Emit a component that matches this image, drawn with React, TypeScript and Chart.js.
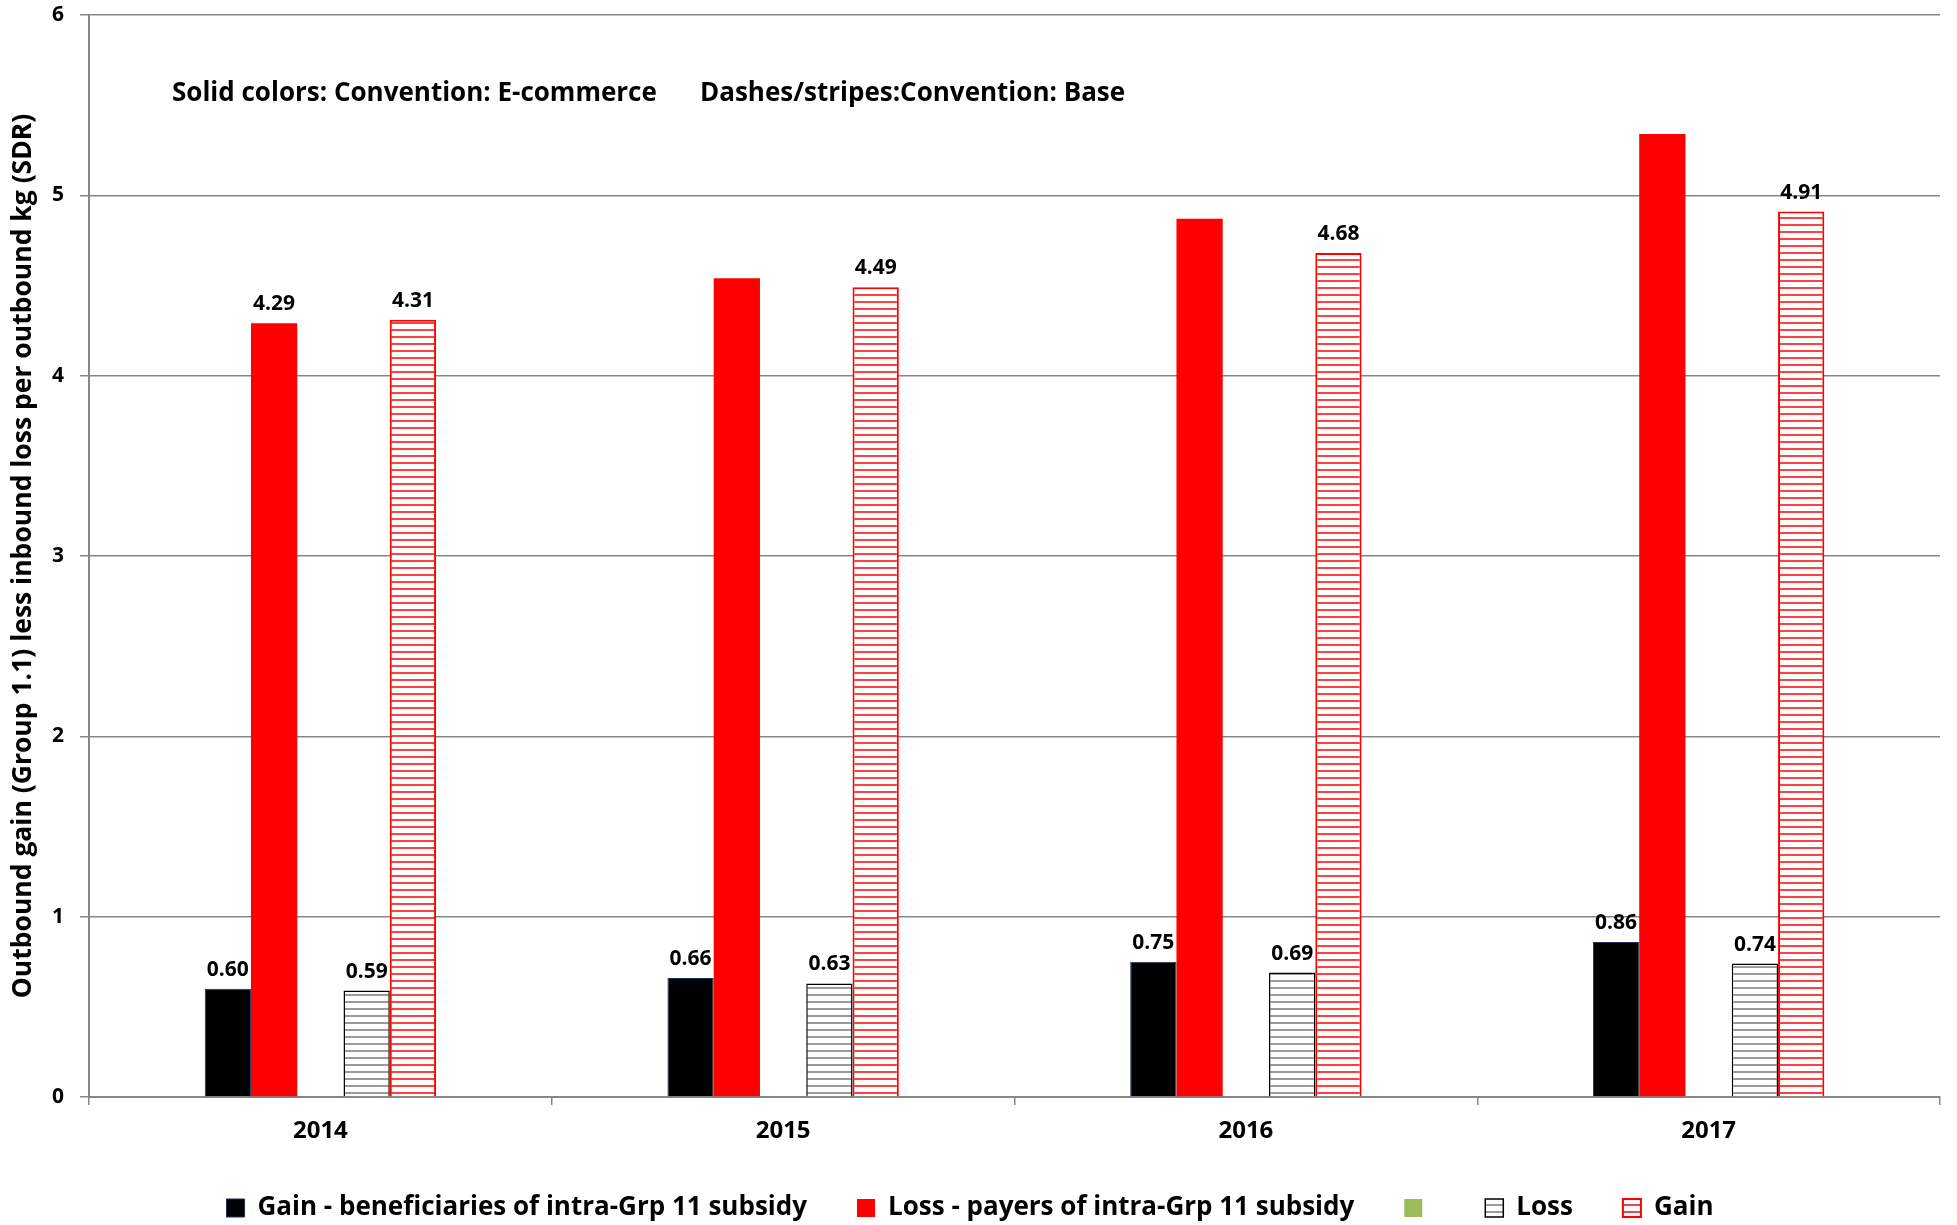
import React, { useEffect, useRef } from "react";
import { Chart, registerables } from "chart.js";

Chart.register(...registerables);

const years = ["2014", "2015", "2016", "2017"];
const ecomGain = [0.6, 0.66, 0.75, 0.86];
const ecomLoss = [4.29, 4.54, 4.87, 5.34];
const emptySeries = [null, null, null, null];
const baseLoss = [0.59, 0.63, 0.69, 0.74];
const baseGain = [4.31, 4.49, 4.68, 4.91];

const ecomGainShown = [true, true, true, true];
const ecomLossShown = [true, false, false, false];
const baseLossShown = [true, true, true, true];
const baseGainShown = [true, true, true, true];

const yTicks = [0, 1, 2, 3, 4, 5, 6];

const seriesNames = [
  "Gain - beneficiaries of intra-Grp 11 subsidy",
  "Loss - payers of intra-Grp 11 subsidy",
  "",
  "Loss",
  "Gain",
];

const noteLeft = "Solid colors: Convention: E-commerce";
const noteRight = "Dashes/stripes:Convention: Base";
const yTitle = "Outbound gain (Group 1.1) less inbound loss per outbound kg (SDR)";

const FONT = "'Open Sans', Lato, sans-serif";
const GRID = "#878787";

function makeStripe(line: string, lineW: number, period: number): CanvasPattern | string {
  const c = document.createElement("canvas");
  c.width = 8;
  c.height = period;
  const g = c.getContext("2d");
  if (!g) return "#ffffff";
  g.fillStyle = "#ffffff";
  g.fillRect(0, 0, 8, period);
  g.fillStyle = line;
  g.fillRect(0, 0, 8, lineW);
  const p = g.createPattern(c, "repeat");
  return p || "#ffffff";
}

const labelPlugin = {
  id: "valueLabels",
  afterDatasetsDraw(chart: any) {
    const flags = [ecomGainShown, ecomLossShown, null, baseLossShown, baseGainShown];
    const { ctx } = chart;
    ctx.save();
    ctx.font = `bold 21px ${FONT}`;
    ctx.fillStyle = "#000000";
    ctx.textAlign = "center";
    ctx.textBaseline = "alphabetic";
    chart.data.datasets.forEach((ds: any, i: number) => {
      const f = flags[i];
      if (!f) return;
      const meta = chart.getDatasetMeta(i);
      meta.data.forEach((el: any, j: number) => {
        const v = ds.data[j];
        if (!f[j] || v == null) return;
        ctx.fillText(Number(v).toFixed(2), el.x, el.y - 13);
      });
    });
    ctx.restore();
  },
};

const notePlugin = {
  id: "note",
  afterDraw(chart: any) {
    const { ctx, chartArea } = chart;
    ctx.save();
    ctx.font = `bold 26px ${FONT}`;
    ctx.fillStyle = "#000000";
    ctx.textAlign = "left";
    ctx.textBaseline = "middle";
    ctx.fillText(noteLeft, chartArea.left + 83, chartArea.top + 79);
    ctx.fillText(noteRight, chartArea.left + 611, chartArea.top + 79);
    ctx.restore();
  },
};

export default function App() {
  const ref = useRef<HTMLCanvasElement | null>(null);

  useEffect(() => {
    if (!ref.current) return;
    const blackStripe = makeStripe("#9a9a9a", 2, 7);
    const redStripe = makeStripe("#ff4040", 2, 7);

    const chart = new Chart(ref.current, {
      type: "bar",
      data: {
        labels: years,
        datasets: [
          {
            label: seriesNames[0],
            data: ecomGain,
            backgroundColor: "#000000",
            borderColor: "#1f2f5f",
            borderWidth: 1,
          },
          {
            label: seriesNames[1],
            data: ecomLoss,
            backgroundColor: "#ff0000",
            borderColor: "#ff0000",
            borderWidth: 0,
          },
          {
            label: seriesNames[2],
            data: emptySeries as any,
            backgroundColor: "#9bbb59",
            borderColor: "#9bbb59",
            borderWidth: 0,
          },
          {
            label: seriesNames[3],
            data: baseLoss,
            backgroundColor: blackStripe as any,
            borderColor: "#000000",
            borderWidth: 1.5,
          },
          {
            label: seriesNames[4],
            data: baseGain,
            backgroundColor: redStripe as any,
            borderColor: "#ff0000",
            borderWidth: 2,
          },
        ],
      },
      options: {
        animation: false,
        responsive: true,
        maintainAspectRatio: false,
        devicePixelRatio: 1,
        events: [],
        layout: { padding: { top: 15, right: 17, bottom: -6, left: 0 } },
        datasets: {
          bar: { categoryPercentage: 0.5, barPercentage: 1 },
        },
        plugins: {
          tooltip: { enabled: false },
          title: { display: false },
          legend: {
            display: true,
            position: "bottom",
            labels: {
              font: { family: FONT, size: 26, weight: "bold" },
              color: "#000000",
              boxWidth: 18,
              boxHeight: 18,
              padding: 50,
            },
          },
        },
        scales: {
          x: {
            type: "category",
            offset: true,
            grid: {
              display: true,
              drawOnChartArea: false,
              drawTicks: true,
              tickLength: 8,
              offset: true,
              color: GRID,
              lineWidth: 1.5,
            },
            border: { display: true, color: GRID, width: 2 },
            ticks: {
              font: { family: FONT, size: 24, weight: "bold" },
              color: "#000000",
              padding: 12,
            },
            afterFit(scale: any) {
              scale.height = 48;
            },
          },
          y: {
            min: 0,
            max: 6,
            afterBuildTicks(scale: any) {
              scale.ticks = yTicks.map((v) => ({ value: v }));
            },
            grid: {
              color: GRID,
              lineWidth: 1.5,
              tickLength: 9,
              drawTicks: true,
            },
            border: { display: true, color: GRID, width: 2 },
            ticks: {
              font: { family: FONT, size: 21, weight: "bold" },
              color: "#000000",
              padding: 16,
            },
            title: {
              display: true,
              text: yTitle,
              font: { family: FONT, size: 26.5, weight: "bold" },
              color: "#000000",
              padding: { top: 8, bottom: 0 },
            },
            afterFit(scale: any) {
              scale.width = 89;
              scale.paddingTop = 10;
              scale.paddingBottom = 10;
            },
          },
        },
      },
      plugins: [labelPlugin, notePlugin],
    });

    return () => chart.destroy();
  }, []);

  return (
    <div
      style={{
        position: "fixed",
        left: 0,
        top: 0,
        width: 1957,
        height: 1225,
        background: "#ffffff",
      }}
    >
      <canvas ref={ref} />
    </div>
  );
}
